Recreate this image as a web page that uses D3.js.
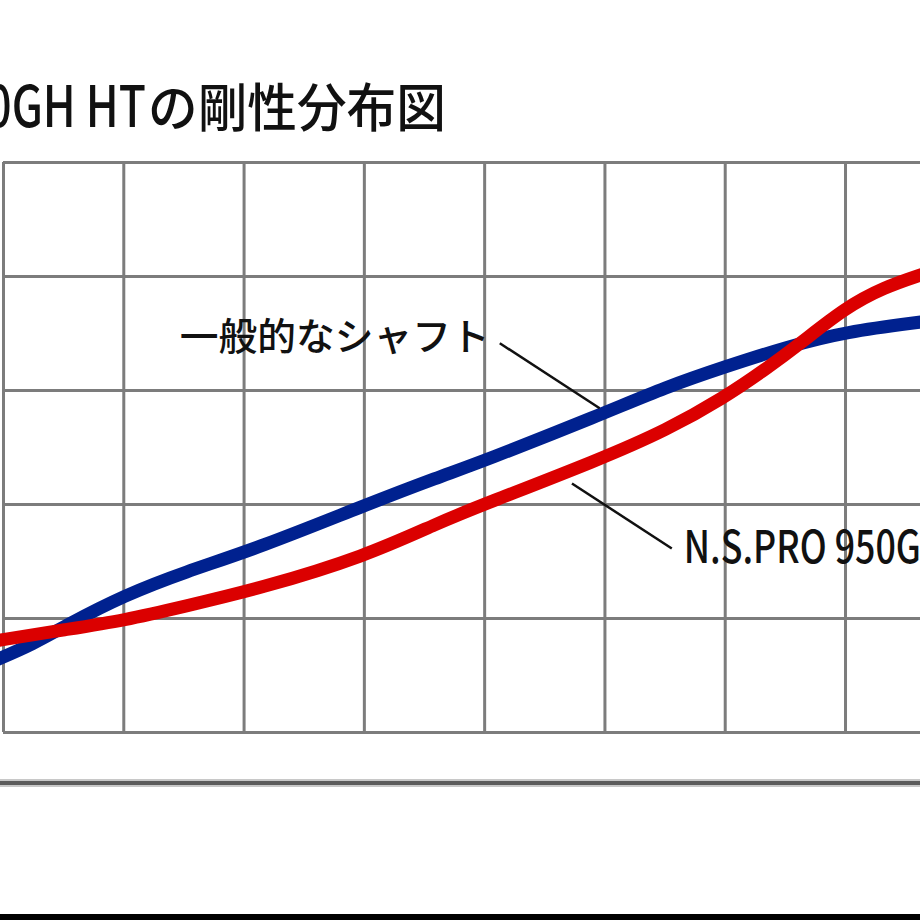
<!DOCTYPE html>
<html lang="ja">
<head>
<meta charset="utf-8">
<script src="https://cdn.jsdelivr.net/npm/d3@7"></script>
<style>
    html, body { margin: 0; padding: 0; background: #fff; overflow: hidden; }
    svg { display: block; }
    .grid .domain { display: none; }
    .grid line { stroke: #7c7c7c; stroke-width: 3; }
    .grid .light line { stroke: #cbcbcb; stroke-width: 7; }
    .shaft { fill: none; stroke-width: 13; }
    .leader { stroke: #111; stroke-width: 2.5; }
    .separator { stroke: #5c5c5c; stroke-width: 4; }
    .separator-halo { stroke: #c8c8c8; stroke-width: 8; }
    text { font-family: "Noto Sans CJK JP", "Noto Sans", sans-serif; fill: #111; font-weight: 500; }
</style>
</head>
<body>
<div id="chart"></div>
<script>
"use strict"

// grid positions (shaft position / stiffness units)
const gridX = [0, 1, 2, 3, 4, 5, 6, 7, 8]
const gridY = [0, 1, 2, 3, 4, 5]
const lightX = [3]
const lightY = [2, 4]

// 一般的なシャフト (blue)
const posGeneral = [-0.06, 0.25, 0.53, 1.01, 1.50, 2.14, 3.01, 3.63, 3.98, 4.96, 5.52, 5.99, 6.52, 7.00, 7.66]
const stiffGeneral = [0.63, 0.77, 0.94, 1.20, 1.40, 1.62, 1.99, 2.24, 2.37, 2.78, 3.03, 3.20, 3.38, 3.51, 3.60]

// N.S.PRO 950GH HT (red)
const posNsPro = [-0.06, 0.53, 1.01, 1.50, 2.14, 3.01, 3.63, 3.98, 4.96, 5.52, 5.99, 6.35, 6.63, 7.00, 7.32, 7.66]
const stiffNsPro = [0.80, 0.90, 0.98, 1.10, 1.26, 1.54, 1.84, 1.99, 2.39, 2.65, 2.93, 3.19, 3.41, 3.72, 3.90, 4.02]

// annotation anchors [x, y] in chart units
const labelGeneral = { text: "一般的なシャフト", at: [1.47, 3.35], leader: [[4.13, 3.41], [4.96, 2.84]] }
const labelNsPro = { text: "N.S.PRO 950GH HT", at: [5.66, 1.48], leader: [[4.73, 2.18], [5.56, 1.61]] }

const titleLatin = "N.S.PRO 950GH HT"
const titleKana = "の剛性分布図"

/*
    stiffness distribution chart
    * draw: builds grid, curves and labels
*/
const stiffness = (function() {

    // squeeze a text sideways to a given width (the source face is a narrow gothic)
    function squeeze(sel, x, y, width) {
        sel.each(function() {
            const k = width / this.getComputedTextLength()
            d3.select(this).attr("transform", `translate(${ x }, ${ y }) scale(${ k }, 1)`)
        })
    }

    function draw(id, opts = { w: 920, h: 920 }) {
        let chart = Object.assign({
            targetId: id,
            frame: { l: 3, r: 965.3, t: 162, b: 732 },
            series: [
                { name: "general", color: "#00218f", xs: posGeneral, ys: stiffGeneral },
                { name: "nspro", color: "#db0000", xs: posNsPro, ys: stiffNsPro },
            ]
        }, opts)

        const x = d3.scaleLinear()
                    .domain([0, 8])
                    .range([chart.frame.l, chart.frame.r])
        const y = d3.scaleLinear()
                    .domain([0, 5])
                    .range([chart.frame.b, chart.frame.t])

        let svg = d3.select(chart.targetId)
                    .append("svg")
                        .attr("width", chart.w)
                        .attr("height", chart.h)
                        .attr("viewBox", `0 0 ${ chart.w } ${ chart.h }`)

        // title (left part runs off the picture)
        svg.append("text")
            .text(titleLatin)
            .attr("font-size", 57)
            .call(squeeze, 146 - 398, 127, 398)
        svg.append("text")
            .text(titleKana)
            .attr("font-size", 52)
            .call(squeeze, 148, 127, 298)

        // grid: light lines below, dark lines above
        const span = chart.frame.b - chart.frame.t
        const width = chart.frame.r - chart.frame.l
        const gridLayer = (cls, xs, ys) => {
            svg.append("g")
                .attr("class", `grid ${ cls }`)
                .attr("transform", `translate(0, ${ chart.frame.b })`)
                .call(d3.axisBottom(x).tickValues(xs).tickSize(-span).tickFormat(""))
            svg.append("g")
                .attr("class", `grid ${ cls }`)
                .attr("transform", `translate(${ chart.frame.l }, 0)`)
                .call(d3.axisLeft(y).tickValues(ys).tickSize(-width).tickFormat(""))
        }
        gridLayer("light", lightX, lightY)
        gridLayer("dark", gridX.filter(v => !lightX.includes(v)), gridY.filter(v => !lightY.includes(v)))

        // curves
        const line = d3.line()
                        .x(d => x(d[0]))
                        .y(d => y(d[1]))
                        .curve(d3.curveBasis)
        svg.selectAll(".shaft")
            .data(chart.series)
            .enter().append("path")
                .attr("class", d => `shaft ${ d.name }`)
                .attr("stroke", d => d.color)
                .attr("d", d => line(d.xs.map((v, i) => [v, d.ys[i]])))

        // annotations
        const labels = [
            Object.assign({ size: 38, length: 310 }, labelGeneral),
            Object.assign({ size: 45, length: 320 }, labelNsPro),
        ]
        svg.selectAll(".leader")
            .data(labels)
            .enter().append("line")
                .attr("class", "leader")
                .attr("x1", d => x(d.leader[0][0]))
                .attr("y1", d => y(d.leader[0][1]))
                .attr("x2", d => x(d.leader[1][0]))
                .attr("y2", d => y(d.leader[1][1]))
        svg.selectAll(".label")
            .data(labels)
            .enter().append("text")
                .attr("class", "label")
                .text(d => d.text)
                .attr("font-size", d => d.size)
                .each(function(d) {
                    d3.select(this).call(squeeze, x(d.at[0]), y(d.at[1]), d.length)
                })

        // lower separator and bottom edge
        svg.append("line")
            .attr("class", "separator-halo")
            .attr("x1", 0).attr("x2", chart.w)
            .attr("y1", 783).attr("y2", 783)
        svg.append("line")
            .attr("class", "separator")
            .attr("x1", 0).attr("x2", chart.w)
            .attr("y1", 783).attr("y2", 783)
        svg.append("rect")
            .attr("x", 0)
            .attr("y", 914)
            .attr("width", chart.w)
            .attr("height", 6)
            .attr("fill", "#000")
    }

    return {
        draw: draw
    }

}())

stiffness.draw("#chart")
</script>
</body>
</html>
